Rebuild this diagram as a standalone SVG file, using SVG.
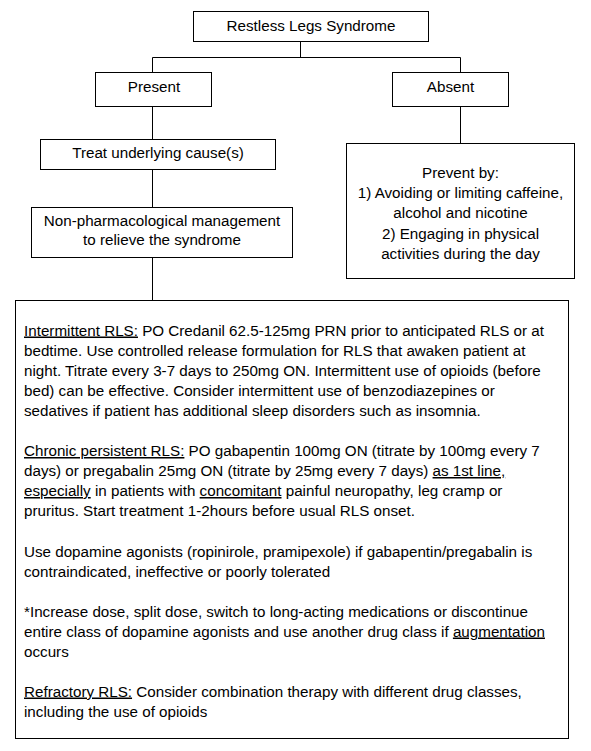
<svg xmlns="http://www.w3.org/2000/svg" width="591" height="751" viewBox="0 0 591 751">
<style>
  .box { fill: #ffffff; stroke: #000000; stroke-width: 1; }
  .conn { stroke: #000000; stroke-width: 1; fill: none; }
  text { font-family: "Liberation Sans", Arial, sans-serif; font-size: 15.2px; fill: #000000; }
  .c { text-anchor: middle; }
  .u { text-decoration: underline; }
</style>
<rect x="0" y="0" width="591" height="751" fill="#ffffff"/>
<g id="connectors">
  <path class="conn" d="M300.5 41.5 V57.5 M152.5 57.5 H460.5 M152.5 57.5 V72.5 M460.5 57.5 V72.5"/>
  <path class="conn" d="M152.5 106.5 V139.5"/>
  <path class="conn" d="M460.5 106.5 V143.5"/>
  <path class="conn" d="M152.5 169.5 V207.5"/>
  <path class="conn" d="M152.5 257.5 V300.5"/>
</g>
<g id="rls">
  <rect class="box" x="193.5" y="11.5" width="235" height="30"/>
  <text class="c" x="311" y="31">Restless Legs Syndrome</text>
</g>
<g id="present">
  <rect class="box" x="95.5" y="72.5" width="116" height="34"/>
  <text class="c" x="154" y="92">Present</text>
</g>
<g id="absent">
  <rect class="box" x="392.5" y="72.5" width="116" height="34"/>
  <text class="c" x="450.5" y="92">Absent</text>
</g>
<g id="treat">
  <rect class="box" x="40.5" y="139.5" width="235" height="30"/>
  <text class="c" x="158" y="158">Treat underlying cause(s)</text>
</g>
<g id="prevent">
  <rect class="box" x="346.5" y="143.5" width="228" height="135"/>
  <text class="c" x="460.5" y="178">Prevent by:</text>
  <text class="c" x="460.5" y="198.2">1) Avoiding or limiting caffeine,</text>
  <text class="c" x="460.5" y="218.4">alcohol and nicotine</text>
  <text class="c" x="460.5" y="238.6">2) Engaging in physical</text>
  <text class="c" x="460.5" y="258.8">activities during the day</text>
</g>
<g id="nonpharm">
  <rect class="box" x="31.5" y="207.5" width="261" height="50"/>
  <text class="c" x="162" y="225.5">Non-pharmacological management</text>
  <text class="c" x="162" y="245">to relieve the syndrome</text>
</g>
<g id="treatment">
  <rect class="box" x="15.5" y="300.5" width="553" height="438"/>
  <text x="24" y="335.5"><tspan class="u">Intermittent RLS:</tspan> PO Credanil 62.5-125mg PRN prior to anticipated RLS or at</text>
  <text x="24" y="355.5">bedtime. Use controlled release formulation for RLS that awaken patient at</text>
  <text x="24" y="375.5">night. Titrate every 3-7 days to 250mg ON. Intermittent use of opioids (before</text>
  <text x="24" y="395.5">bed) can be effective. Consider intermittent use of benzodiazepines or</text>
  <text x="24" y="415.5">sedatives if patient has additional sleep disorders such as insomnia.</text>
  <text x="24" y="456"><tspan class="u">Chronic persistent RLS:</tspan> PO gabapentin 100mg ON (titrate by 100mg every 7</text>
  <text x="24" y="476">days) or pregabalin 25mg ON (titrate by 25mg every 7 days) <tspan class="u">as 1st line,</tspan></text>
  <text x="24" y="496"><tspan class="u">especially</tspan> in patients with <tspan class="u">concomitant</tspan> painful neuropathy, leg cramp or</text>
  <text x="24" y="516">pruritus. Start treatment 1-2hours before usual RLS onset.</text>
  <text x="24" y="556.5">Use dopamine agonists (ropinirole, pramipexole) if gabapentin/pregabalin is</text>
  <text x="24" y="576.5">contraindicated, ineffective or poorly tolerated</text>
  <text x="24" y="616.5">*Increase dose, split dose, switch to long-acting medications or discontinue</text>
  <text x="24" y="636.5">entire class of dopamine agonists and use another drug class if <tspan class="u">augmentation</tspan></text>
  <text x="24" y="656.5">occurs</text>
  <text x="24" y="696.5"><tspan class="u">Refractory RLS:</tspan> Consider combination therapy with different drug classes,</text>
  <text x="24" y="716.5">including the use of opioids</text>
</g>
</svg>
